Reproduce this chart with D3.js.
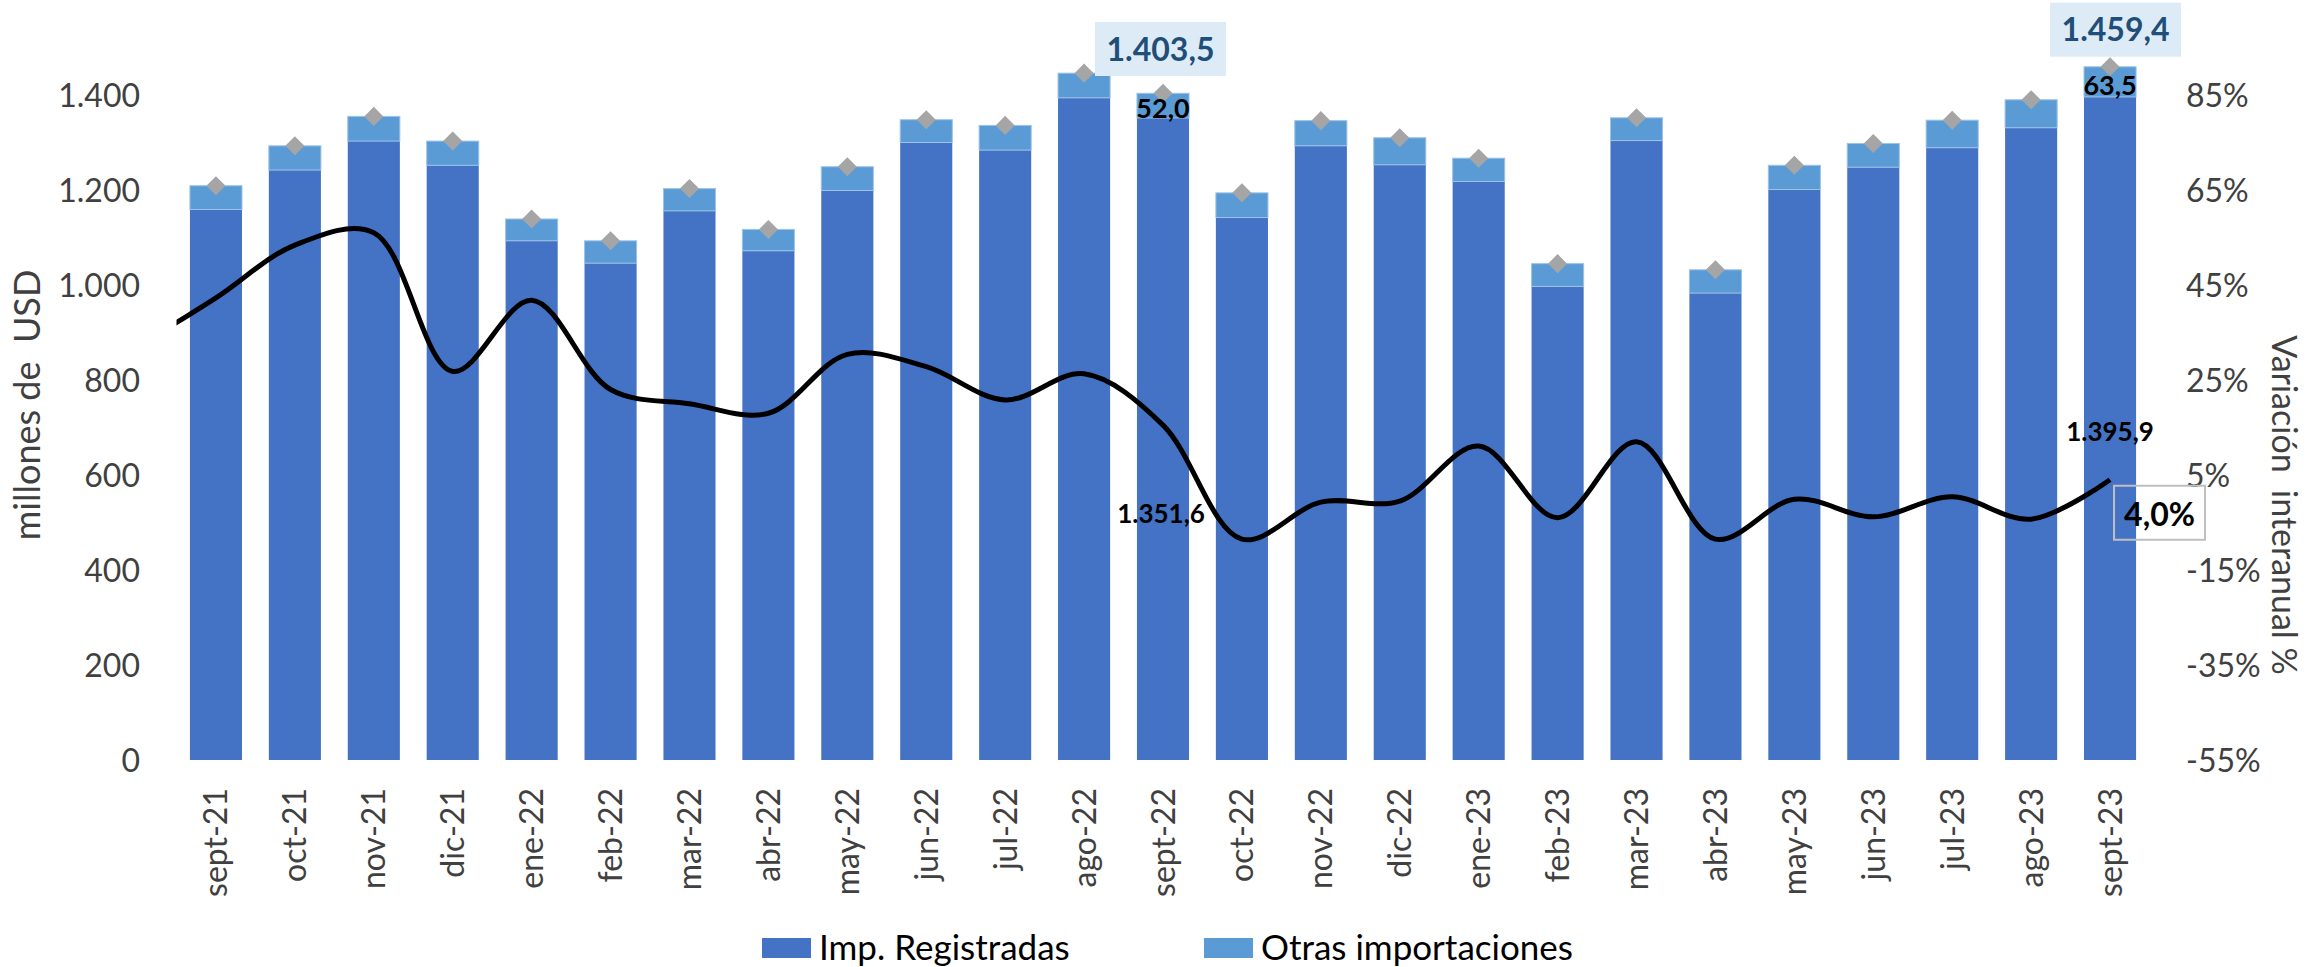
<!DOCTYPE html>
<html>
<head>
<meta charset="utf-8">
<script src="https://cdn.jsdelivr.net/npm/d3@7"></script>
<style>
  body { margin: 0; background: #fff; }
  text { font-family: Lato, "Open Sans", sans-serif; }
</style>
</head>
<body>
<svg id="chart"></svg>
<script>
// datos (millones de USD y variacion interanual %)
var categories = ["sept-21","oct-21","nov-21","dic-21","ene-22","feb-22","mar-22","abr-22","may-22","jun-22","jul-22","ago-22",
  "sept-22","oct-22","nov-22","dic-22","ene-23","feb-23","mar-23","abr-23","may-23","jun-23","jul-23","ago-23","sept-23"];
var registradas = [1159, 1242, 1303, 1252, 1093, 1046, 1156, 1072, 1199, 1300, 1284, 1394,
  1351.6, 1142, 1293, 1253, 1218, 997, 1304, 983, 1201, 1248, 1289, 1331, 1395.9];
var otras = [50, 51, 52, 51, 46, 47, 47, 45, 50, 48, 52, 52,
  52.0, 52, 53, 57, 49, 48, 48, 49, 51, 50, 58, 59, 63.5];
// variacion interanual; el primer valor corresponde al mes previo (ago-21), recortado por el area
var variacionPrevia = 32;
var variacion = [42.3, 53.4, 56, 26.8, 41.8, 23, 20, 18, 30.4, 27.8, 20.8, 26.3,
  15.5, -8.5, -0.7, -0.5, 11.1, -4, 12, -8.5, -0.1, -3.8, 0.4, -4.3, 4.0];
var leftTicks = [0, 200, 400, 600, 800, 1000, 1200, 1400];
var rightTicks = [-55, -35, -15, 5, 25, 45, 65, 85];
var seriesNames = ["Imp. Registradas", "Otras importaciones"];
var labelTotales = ["1.403,5", "1.459,4"];
var labelOtras = ["52,0", "63,5"];
var labelRegistradas = ["1.351,6", "1.395,9"];
var labelVariacion = "4,0%";

var svgWidth = 2308;
var svgHeight = 967;
var colDark = "#4472C4", colLight = "#5B9BD5", colGray = "#A5A5A5", colText = "#404040";

var svg = d3.select("#chart")
  .attr("width", svgWidth)
  .attr("height", svgHeight);

var plotLeft = 176.5, plotRight = 2149.5, plotTop = 0, plotBottom = 760;

var x = d3.scaleBand()
  .domain(categories)
  .range([plotLeft, plotRight])
  .paddingInner(0.34)
  .paddingOuter(0.17);
var yL = d3.scaleLinear().domain([0, 1400]).range([760, 95]);
var yR = d3.scaleLinear().domain([-55, 85]).range([760, 95]);
var bw = x.bandwidth();
function cx(i) { return x(categories[i]) + bw / 2; }

var es = d3.formatLocale({decimal: ",", thousands: ".", grouping: [3], currency: ["$", ""]});
var fmtInt = es.format(",.0f");

// barras apiladas
svg.append("g").selectAll("rect")
  .data(registradas)
  .enter()
  .append("rect")
  .attr("x", function(d, i) { return x(categories[i]); })
  .attr("width", bw)
  .attr("y", function(d) { return yL(d); })
  .attr("height", function(d) { return yL(0) - yL(d); })
  .attr("fill", colDark);

svg.append("g").selectAll("rect")
  .data(otras)
  .enter()
  .append("rect")
  .attr("x", function(d, i) { return x(categories[i]); })
  .attr("width", bw)
  .attr("y", function(d, i) { return yL(registradas[i] + d); })
  .attr("height", function(d, i) { return yL(registradas[i]) - yL(registradas[i] + d); })
  .attr("fill", colLight)
  .attr("stroke", "#9DC3E6")
  .attr("stroke-width", 1);

// linea de variacion
svg.append("clipPath").attr("id", "clip")
  .append("rect")
  .attr("x", plotLeft).attr("y", plotTop)
  .attr("width", plotRight - plotLeft).attr("height", plotBottom - plotTop);

var linePts = [[cx(0) - x.step(), yR(variacionPrevia)]];
variacion.forEach(function(v, i) { linePts.push([cx(i), yR(v)]); });

svg.append("path")
  .attr("clip-path", "url(#clip)")
  .attr("d", d3.line().curve(d3.curveCatmullRom.alpha(0.5))(linePts))
  .attr("fill", "none")
  .attr("stroke", "#000")
  .attr("stroke-width", 5);

// rombos de total
svg.append("g").selectAll("path")
  .data(registradas)
  .enter()
  .append("path")
  .attr("d", d3.symbol(d3.symbolSquare, 182)())
  .attr("transform", function(d, i) {
    return "translate(" + cx(i) + "," + yL(d + otras[i]) + ") rotate(45)";
  })
  .attr("fill", colGray);

// ejes
svg.append("g").selectAll("text")
  .data(leftTicks)
  .enter()
  .append("text")
  .attr("x", 140)
  .attr("y", function(d) { return yL(d); })
  .attr("dy", "0.36em")
  .attr("text-anchor", "end")
  .attr("font-size", 32)
  .attr("fill", colText)
  .text(function(d) { return fmtInt(d); });

svg.append("g").selectAll("text")
  .data(rightTicks)
  .enter()
  .append("text")
  .attr("x", 2186)
  .attr("y", function(d) { return yR(d); })
  .attr("dy", "0.36em")
  .attr("font-size", 32)
  .attr("fill", colText)
  .text(function(d) { return d + "%"; });

svg.append("g").selectAll("text")
  .data(categories)
  .enter()
  .append("text")
  .attr("transform", function(d) { return "translate(" + (x(d) + bw / 2) + ",788) rotate(-90)"; })
  .attr("dy", "0.36em")
  .attr("text-anchor", "end")
  .attr("font-size", 32)
  .attr("fill", colText)
  .text(function(d) { return d; });

svg.append("text")
  .attr("transform", "translate(40,405) rotate(-90)")
  .attr("text-anchor", "middle")
  .attr("font-size", 36)
  .attr("fill", colText)
  .attr("xml:space", "preserve")
  .text("millones de  USD");

svg.append("text")
  .attr("transform", "translate(2272,505) rotate(90)")
  .attr("text-anchor", "middle")
  .attr("font-size", 34)
  .attr("fill", colText)
  .attr("xml:space", "preserve")
  .text("Variación  interanual %");

// etiquetas
var iS22 = categories.indexOf("sept-22");
var iS23 = categories.indexOf("sept-23");
var boxes = [
  {i: iS22, text: labelTotales[0], dx: -2.5, bottom: 76},
  {i: iS23, text: labelTotales[1], dx: 5.5, bottom: 56.7}
];
boxes.forEach(function(b) {
  var g = svg.append("g").attr("transform", "translate(" + (cx(b.i) + b.dx) + "," + (b.bottom - 27) + ")");
  g.append("rect").attr("x", -65.5).attr("y", -27).attr("width", 131).attr("height", 54).attr("fill", "#DDEBF7");
  g.append("text").attr("text-anchor", "middle").attr("dy", "0.36em")
    .attr("font-size", 32).attr("font-weight", "bold").attr("fill", "#1F4E79").text(b.text);
});

[iS22, iS23].forEach(function(idx, k) {
  var top = yL(registradas[idx] + otras[idx]);
  var mid = (top + yL(registradas[idx])) / 2;
  svg.append("text").attr("x", cx(idx)).attr("y", mid + 3).attr("dy", "0.36em")
    .attr("text-anchor", "middle").attr("font-size", 27).attr("font-weight", "bold")
    .attr("fill", "#000").text(labelOtras[k]);
});

svg.append("text").attr("x", cx(iS22) - 2).attr("y", 514).attr("dy", "0.36em")
  .attr("text-anchor", "middle").attr("font-size", 26).attr("font-weight", "bold")
  .attr("fill", "#000").text(labelRegistradas[0]);
svg.append("text").attr("x", cx(iS23)).attr("y", 432).attr("dy", "0.36em")
  .attr("text-anchor", "middle").attr("font-size", 26).attr("font-weight", "bold")
  .attr("fill", "#000").text(labelRegistradas[1]);

var vx = cx(iS23) + 49.5, vy = yR(variacion[iS23]) + 33;
svg.append("rect").attr("x", vx - 45.5).attr("y", vy - 27).attr("width", 91).attr("height", 54)
  .attr("fill", "none").attr("stroke", "#BFBFBF").attr("stroke-width", 2);
svg.append("text").attr("x", vx).attr("y", vy + 2).attr("dy", "0.36em")
  .attr("text-anchor", "middle").attr("font-size", 32).attr("font-weight", "bold")
  .attr("fill", "#000").text(labelVariacion);

// leyenda
var legend = svg.append("g");
var legendX = [762, 1204];
seriesNames.forEach(function(name, i) {
  legend.append("rect").attr("x", legendX[i]).attr("y", 938).attr("width", 49).attr("height", 20)
    .attr("fill", i === 0 ? colDark : colLight);
  legend.append("text").attr("x", legendX[i] + 57).attr("y", 947).attr("dy", "0.36em")
    .attr("font-size", 35).attr("fill", "#000").text(name);
});
</script>
</body>
</html>
